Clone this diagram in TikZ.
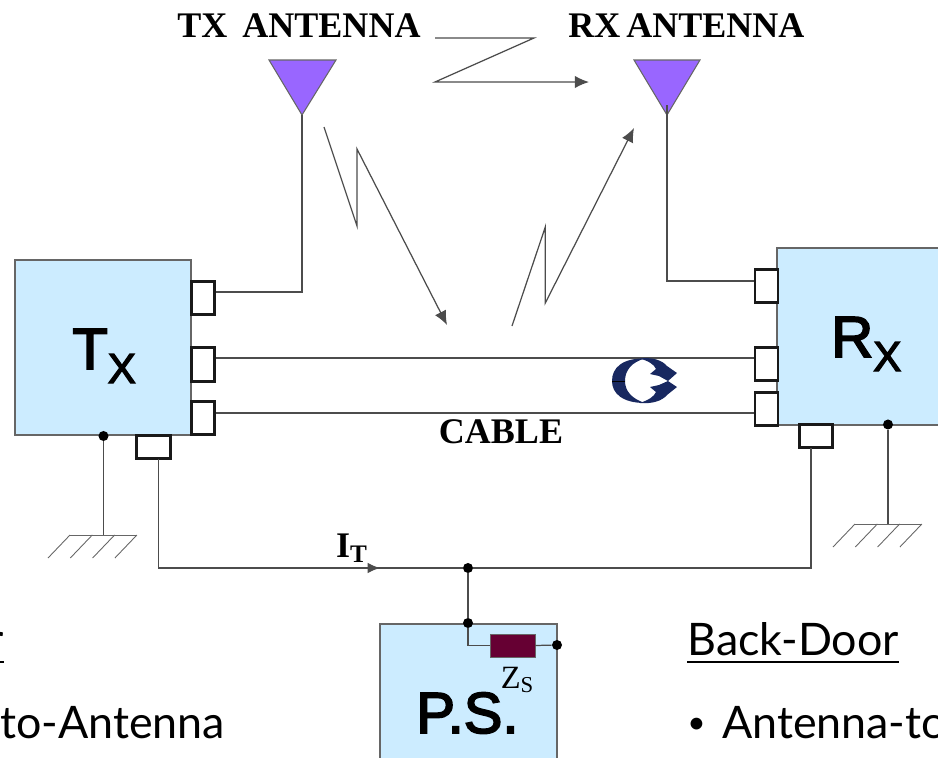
\documentclass[tikz,border=0pt]{standalone}
\usepackage{fontspec}
\usepackage{amsmath}
\setmainfont{Liberation Serif}
\setsansfont{Liberation Sans}
\newfontfamily\slidefont{Lato}
\newfontfamily\unitfont[FakeBold=3]{Liberation Sans}
\usetikzlibrary{arrows.meta}

\tikzset{
  wire/.style={draw=black!70, line width=0.7pt},
  portbox/.style={draw=black!90, line width=1.6pt, fill=white, inner sep=0pt},
  upright/.style={portbox, minimum width=13pt, minimum height=19pt},
  sideways/.style={portbox, minimum width=19pt, minimum height=13pt},
  unitbox/.style={draw=black!60, line width=0.6pt, fill=boxblue},
  antenna/.style={draw=black!60, line width=0.6pt, fill=antpurple},
  earthline/.style={draw=black!60, line width=0.5pt},
  junction/.style={circle, fill=black, inner sep=0pt, minimum size=5.7pt},
  linktext/.style={font=\fontsize{20.5}{24}\selectfont\bfseries, inner sep=0pt},
  unittext/.style={font=\fontsize{33}{36}\selectfont\unitfont, inner sep=0pt, anchor=base west},
  slidetext/.style={font=\fontsize{25.5}{30}\selectfont\slidefont, inner sep=0pt, anchor=base west},
  underrule/.style={draw=black, line width=1.1pt},
  radio/.style={wire, -{Latex[length=8pt,width=7pt]}},
}
\definecolor{boxblue}{RGB}{204,236,255}
\definecolor{antpurple}{RGB}{153,102,255}
\definecolor{rescolor}{RGB}{102,0,51}
\definecolor{swirl}{RGB}{24,40,96}
\newcommand{\subx}{\raisebox{-8pt}{\fontsize{24}{24}\selectfont X}}
\newcommand{\smallbullet}{\makebox[19.8pt][l]{\raisebox{2.8pt}{\fontsize{18}{18}\selectfont\textbullet}}}

\begin{document}
\begin{tikzpicture}[x=0.02cm, y=-0.02cm]
  \useasboundingbox (0,0) rectangle (938,758);
  \clip (0,0) rectangle (938,758);

  % Boxes
  \path[unitbox] (15,260) rectangle (191,435);
  \path[unitbox] (777,248) rectangle (950,425);
  \path[unitbox] (380,624) rectangle (557,770);

  % Antennas
  \path[antenna] (269,60) -- (336,60) -- (302,115) -- cycle;
  \path[antenna] (634,60) -- (700,60) -- (667,115) -- cycle;
  \coordinate (txtip) at (302,115);
  \coordinate (rxtip) at (667,105);

  % Ports on the transmitter
  \node[upright] (txa) at (203,298) {};
  \node[upright] (txb) at (203,364.5) {};
  \node[upright] (txc) at (203,418) {};
  \node[sideways] (txd) at (153.5,447) {};

  % Ports on the receiver
  \node[upright] (rxa) at (766.5,286) {};
  \node[upright] (rxb) at (766.5,364) {};
  \node[upright] (rxc) at (766.5,409) {};
  \node[sideways] (rxd) at (816,436) {};

  % Antenna feeds
  \draw[wire] (txtip) |- (txa.east |- 0,292);
  \draw[wire] (rxtip) |- (rxa.west |- 0,281);

  % Cable
  \draw[wire] (txb.east |- 0,358) -- (rxb.west |- 0,358);
  \draw[wire] (txc.east |- 0,413) -- (rxc.west |- 0,413);

  % Supply line
  \node[junction] (top) at (468,568) {};
  \node[junction] (ps) at (468,623) {};
  \coordinate (txdrop) at (158.5,459);
  \coordinate (rxdrop) at (811,448);
  \draw[wire] (txdrop) |- (top);
  \draw[wire] (rxdrop) |- (top);
  \draw[wire, -{Latex[length=7pt,width=6pt]}] (300,568) -- (380,568);
  \draw[wire] (top) -- (ps);

  % Source impedance
  \node[junction] (psout) at (557,645) {};
  \node[draw=black!60, fill=rescolor, minimum width=25.5pt, minimum height=13pt, inner sep=0pt] (zs) at (512.5,645.5) {};
  \draw[wire] (ps) |- (zs.west);
  \draw[wire] (zs.east) -- (psout);

  % Grounds
  \node[junction] (txgnd) at (103.5,436) {};
  \node[junction] (rxgnd) at (888,424.5) {};
  \coordinate (txearth) at (103.5,535);
  \coordinate (rxearth) at (888,524);
  \draw[wire] (txgnd) -- (txearth);
  \draw[wire] (rxgnd) -- (rxearth);
  \draw[earthline] (70,535) -- (137,535);
  \draw[earthline] (855,524) -- (922,524);
  \foreach \i in {0,1,2,3} {
    \draw[earthline] (70+22.3*\i,535) -- ++(-22,23);
    \draw[earthline] (855+22.3*\i,524) -- ++(-22,23);
  }

  % Radio paths
  \draw[radio] (435,38) -- (534,38) -- (435,82) -- (589,82);
  \draw[radio] (324,127) -- (357,226) -- (357,149) -- (447,325);
  \draw[radio] (512,326) -- (545.3,227) -- (545.3,303) -- (634,128);

  % Phase symbol on the cable
  \fill[swirl] (645,358.5) .. controls (622,358) and (612,368) .. (612,381)
    .. controls (612,393) and (622,403) .. (645,403)
    .. controls (632,399) and (625,391) .. (625,381)
    .. controls (625,370) and (632,362) .. (645,358.5) -- cycle;
  \fill[swirl] (640,358.5) .. controls (652,357) and (662,360) .. (667,366)
    -- (677,373) -- (668,381) -- (659,376) -- (650,374) -- (656,369)
    .. controls (654,364) and (648,361) .. (640,358.5) -- cycle;
  \fill[swirl] (640,403) .. controls (652,404) and (662,401) .. (667,395)
    -- (677,387) -- (668,381) -- (659,385) -- (650,387) -- (656,392)
    .. controls (654,397) and (648,400) .. (640,403) -- cycle;
  \draw[black, line width=0.3pt] (612,381) -- (625,381);

  % Labels
  \node[linktext] (txlabel) at (299,26) {TX\, ANTENNA};
  \node[linktext] (rxlabel) at (686.5,26) {RX\,ANTENNA};
  \node[linktext] (cable) at (501,432) {CABLE};
  \node[font=\fontsize{20.5}{24}\selectfont\bfseries, inner sep=0pt] (it) at (352,548) {I$_{\mathbf{T}}$};
  \node[font=\fontsize{18.5}{20}\selectfont, inner sep=0pt] (zslabel) at (517.5,680) {Z$_{\mathrm{S}}$};

  \node[unittext] (tx) at (72,369) {T\subx};
  \node[unittext] (rx) at (831,357) {R\subx};
  \node[unittext] (pstext) at (416,733) {P.S.};

  % Slide text
  \node[slidetext] (backdoor) at (687,655) {Back-Door};
  \node[slidetext] (rxbullet) at (687,738) {\smallbullet Antenna-to};
  \node[slidetext] (txbullet) at (0,738) {to-Antenna};
  \node[slidetext, anchor=base east] (txfragment) at (4,655) {r};
  \draw[underrule] (backdoor.west |- 0,662) -- (backdoor.east |- 0,662);
  \draw[underrule] (txfragment.west |- 0,662) -- (txfragment.east |- 0,662);
\end{tikzpicture}
\end{document}
